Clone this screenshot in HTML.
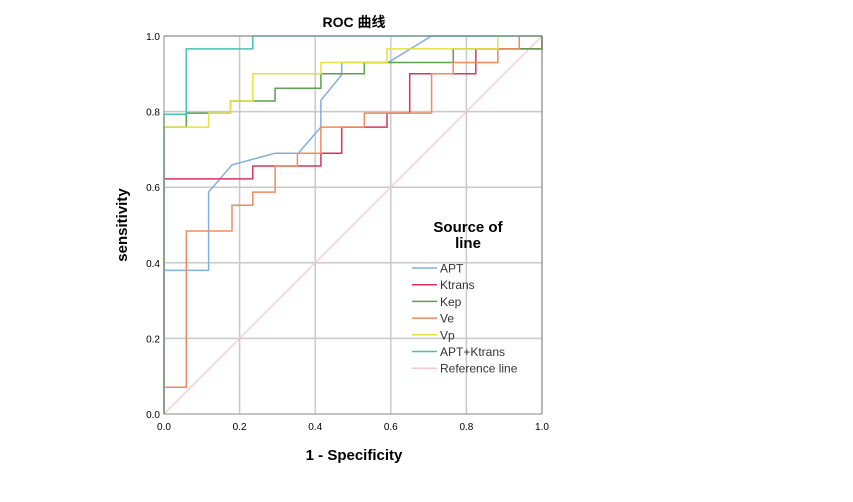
<!DOCTYPE html>
<html><head><meta charset="utf-8"><style>
body{margin:0;background:#fff;}
svg{display:block;font-family:"Liberation Sans","Noto Sans CJK SC",sans-serif;}
</style></head><body>
<svg id="chart" width="853" height="502">
<text x="354" y="27" text-anchor="middle" font-size="14" font-weight="bold">ROC 曲线</text>
<g id="grid"></g>
<g id="series"></g>
<g id="axes"></g>
<text x="354" y="460" text-anchor="middle" font-size="15" font-weight="bold">1 - Specificity</text>
<text transform="translate(127,225) rotate(-90)" text-anchor="middle" font-size="15" font-weight="bold">sensitivity</text>
<g id="legend">
<text x="468" y="232" text-anchor="middle" font-size="15" font-weight="bold">Source of</text>
<text x="468" y="248" text-anchor="middle" font-size="15" font-weight="bold">line</text>
</g>
</svg>
<script>
const seriesNames=["APT","Ktrans","Kep","Ve","Vp","APT+Ktrans"];
const seriesColors=["#82aee0","#d8345f","#5ea04e","#f28a5e","#e2e244","#44c4b4"];
const aptFPR=[0,0,0.118,0.118,0.18,0.294,0.355,0.415,0.415,0.47,0.47,0.593,0.708,1];
const aptTPR=[0,0.38,0.38,0.587,0.659,0.69,0.69,0.759,0.83,0.897,0.93,0.93,1,1];
const ktransFPR=[0,0,0.235,0.235,0.415,0.415,0.47,0.47,0.59,0.59,0.65,0.65,0.825,0.825,1,1];
const ktransTPR=[0,0.622,0.622,0.656,0.656,0.69,0.69,0.759,0.759,0.796,0.796,0.9,0.9,0.966,0.966,1];
const kepFPR=[0,0,0.059,0.059,0.176,0.176,0.294,0.294,0.415,0.415,0.53,0.53,0.765,0.765,1,1];
const kepTPR=[0,0.759,0.759,0.796,0.796,0.828,0.828,0.862,0.862,0.9,0.9,0.93,0.93,0.966,0.966,1];
const veFPR=[0,0,0.059,0.059,0.18,0.18,0.235,0.235,0.294,0.294,0.353,0.353,0.415,0.415,0.47,0.47,0.53,0.53,0.708,0.708,0.765,0.765,0.883,0.883,0.94,0.94,1];
const veTPR=[0,0.071,0.071,0.484,0.484,0.552,0.552,0.587,0.587,0.656,0.656,0.69,0.69,0.759,0.759,0.759,0.759,0.796,0.796,0.9,0.9,0.93,0.93,0.966,0.966,1,1];
const vpFPR=[0,0,0.118,0.118,0.176,0.176,0.235,0.235,0.415,0.415,0.59,0.59,0.883,0.883,1];
const vpTPR=[0,0.759,0.759,0.796,0.796,0.828,0.828,0.9,0.9,0.93,0.93,0.966,0.966,1,1];
const comboFPR=[0,0,0.0588,0.0588,0.235,0.235,1];
const comboTPR=[0,0.793,0.793,0.966,0.966,1,1];
const ticks=[0,0.2,0.4,0.6,0.8,1.0];
const tickLabels=["0.0","0.2","0.4","0.6","0.8","1.0"];
const ns="http://www.w3.org/2000/svg";
const X0=164,X1=542,Y0=414,Y1=36;
const sx=v=>X0+v*(X1-X0), sy=v=>Y0-v*(Y0-Y1);
function mk(tag,attrs,parent){const e=document.createElementNS(ns,tag);for(const k in attrs)e.setAttribute(k,attrs[k]);parent.appendChild(e);return e;}
const grid=document.getElementById('grid'),axes=document.getElementById('axes'),ser=document.getElementById('series'),leg=document.getElementById('legend');
ticks.forEach((t,i)=>{
 if(i>0){const gx=mk('line',{x1:sx(t),x2:sx(t),y1:Y0,y2:Y1,stroke:'#c9c9c9','stroke-width':1.5},grid);
 
 
 const gy=mk('line',{x1:X0,x2:X1,y1:sy(t),y2:sy(t),stroke:'#c9c9c9','stroke-width':1.5},grid);
 
 }
 const tx=mk('text',{x:sx(t),y:Y0+16,'text-anchor':'middle','font-size':10},axes);tx.textContent=tickLabels[i];
 
 
 const ty=mk('text',{x:X0-4,y:sy(t)+4,'text-anchor':'end','font-size':10},axes);ty.textContent=tickLabels[i];
 
 
});
const fr=mk('rect',{x:X0,y:Y1,width:X1-X0,height:Y0-Y1,fill:'none',stroke:'#888','stroke-width':1},axes);


const ref=mk('line',{x1:sx(0),y1:sy(0),x2:sx(1),y2:sy(1),stroke:'#f6c8d2','stroke-width':1.3},ser);


const xs=[aptFPR,ktransFPR,kepFPR,veFPR,vpFPR,comboFPR],ys=[aptTPR,ktransTPR,kepTPR,veTPR,vpTPR,comboTPR];
xs.forEach((xa,i)=>{
 const pts=xa.map((x,j)=>sx(x).toFixed(1)+','+sy(ys[i][j]).toFixed(1)).join(' ');
 const p=mk('polyline',{points:pts,fill:'none',stroke:seriesColors[i],'stroke-width':1.5},ser);
 
 
});
const legNames=seriesNames.concat(["Reference line"]),legColors=seriesColors.concat(["#f6c8d2"]);
legNames.forEach((n,i)=>{
 const y=268+i*16.7;
 const l=mk('line',{x1:412,x2:437,y1:y,y2:y,stroke:legColors[i],'stroke-width':1.5},leg);
 
 
 const t=mk('text',{x:440,y:y+4.5,'font-size':12,fill:'#333'},leg);t.textContent=n;
 
 
});
</script>
</body></html>
